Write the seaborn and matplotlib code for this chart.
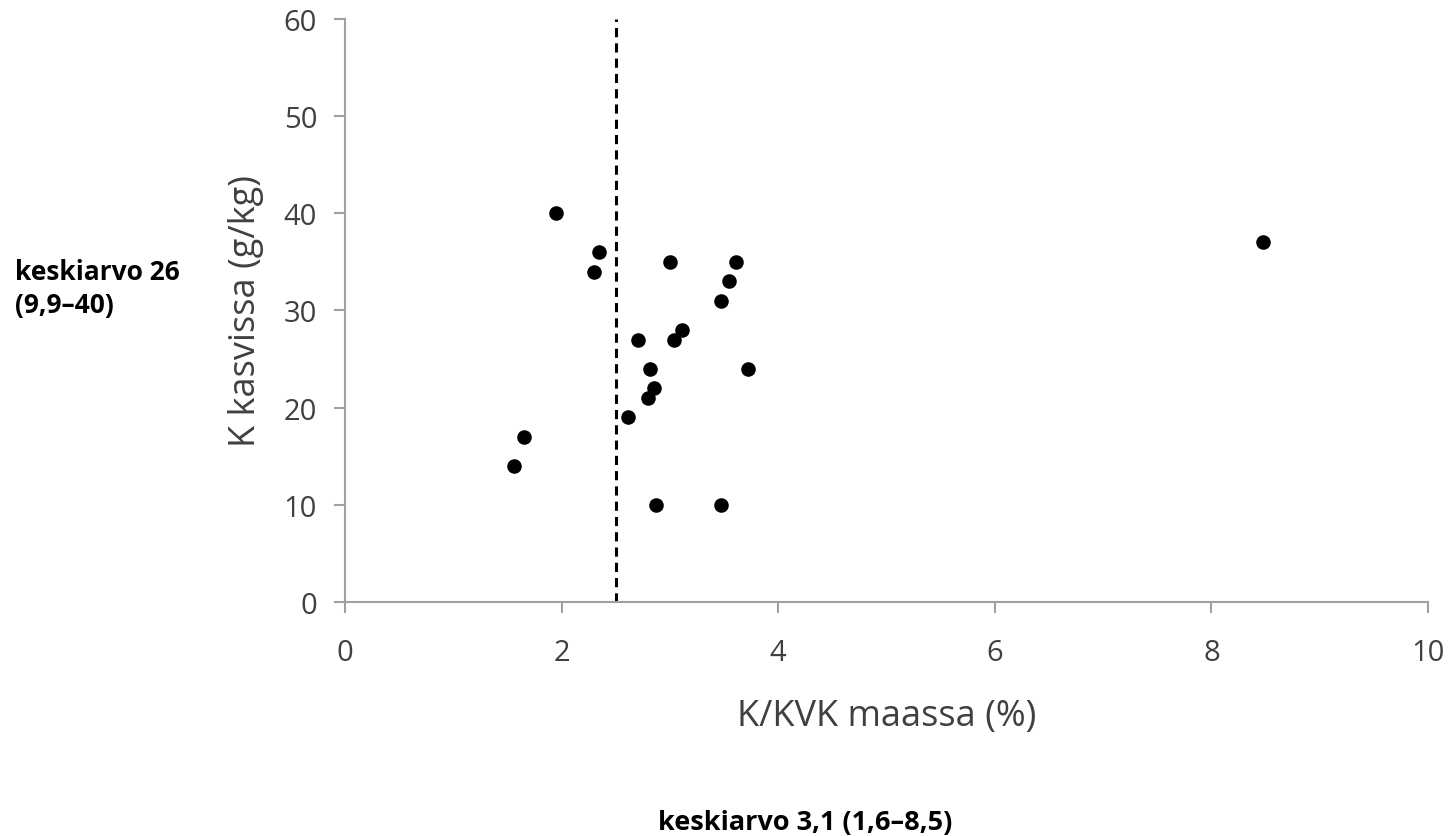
import matplotlib
matplotlib.use("Agg")
import matplotlib.pyplot as plt
import seaborn as sns
import pandas as pd

# Data
kvk_percent = [1.56, 1.65, 1.95, 2.30, 2.35, 2.61, 2.71, 2.80, 2.82, 2.85, 2.87,
               3.00, 3.04, 3.11, 3.47, 3.47, 3.55, 3.61, 3.72, 8.48]
k_plant = [14, 17, 40, 34, 36, 19, 27, 21, 24, 22, 10,
           35, 27, 28, 31, 10, 33, 35, 24, 37]
threshold_x = 2.5
x_ticks = [0, 2, 4, 6, 8, 10]
y_ticks = [0, 10, 20, 30, 40, 50, 60]

df = pd.DataFrame({"x": kvk_percent, "y": k_plant})

sns.set_theme(style="white")
plt.rcParams['font.family'] = ['Open Sans', 'DejaVu Sans']

fig = plt.figure(figsize=(14.53, 8.37), dpi=100)
ax = fig.add_axes([0.2374, 0.2796, 0.7454, 0.6965])

sns.scatterplot(data=df, x="x", y="y", ax=ax, color="black", s=110,
                edgecolor="black", linewidth=0, zorder=3)
ax.plot([threshold_x, threshold_x], [0, 60], color="black", linestyle=(0, (3, 2)),
        linewidth=2.2, zorder=2)

ax.set_xlim(0, 10)
ax.set_ylim(0, 60)
ax.set_xticks(x_ticks)
ax.set_yticks(y_ticks)
ax.tick_params(axis="both", labelsize=21, colors="#404040", length=8, width=1.5,
               direction="out", pad=12, bottom=True, left=True)
ax.tick_params(axis="x", pad=18)
for lab in ax.get_xticklabels() + ax.get_yticklabels():
    lab.set_color("#404040")
for side in ["top", "right"]:
    ax.spines[side].set_visible(False)
for side in ["left", "bottom"]:
    ax.spines[side].set_color("#a0a0a0")
    ax.spines[side].set_linewidth(1.5)
ax.tick_params(axis="both", color="#a0a0a0")

ax.set_xlabel("K/KVK maassa (%)", fontsize=26, color="#404040", labelpad=22)
ax.set_ylabel("K kasvissa (g/kg)", fontsize=26, color="#404040", labelpad=14)

fig.text(0.010, 0.655, "keskiarvo 26\n(9,9–40)", fontsize=19, fontweight="bold",
         color="black", ha="left", va="center", linespacing=1.3)
fig.text(0.554, 0.017, "keskiarvo 3,1 (1,6–8,5)", fontsize=19.5, fontweight="bold",
         color="black", ha="center", va="center")

fig.savefig("out.png", dpi=100, facecolor="white")
